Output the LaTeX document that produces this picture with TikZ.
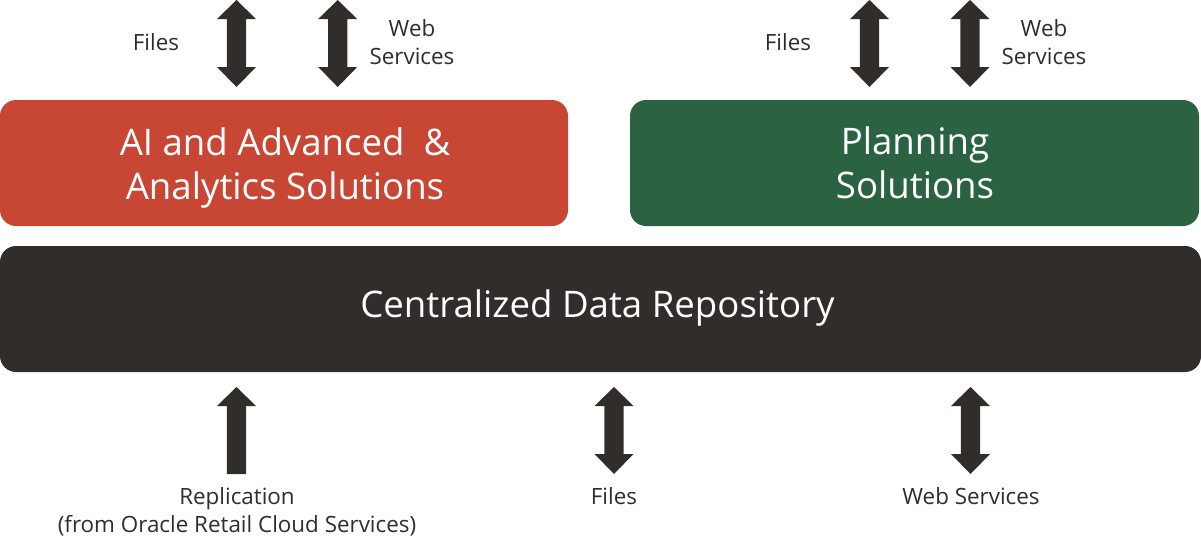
\documentclass[tikz,border=0pt]{standalone}
\usepackage{fontspec}
\setmainfont{Open Sans}
\definecolor{cred}{HTML}{C74634}
\definecolor{cgreen}{HTML}{2B6242}
\definecolor{cdark}{HTML}{312D2A}
\tikzset{
 x=1pt,y=-1pt,
 block/.style={text=white,font=\fontsize{36.6}{44}\selectfont,align=center,inner sep=0pt},
 lab/.style={text=cdark,font=\fontsize{22.4}{28}\selectfont,align=center,inner sep=0pt},
 panel/.style={fill=#1,rounded corners=16pt},
}
\newcommand{\dblarrow}[2]{% x, top y
 \fill[cdark] (#1,#2) -- (#1+19.5,#2+19) -- (#1+9.7,#2+19) -- (#1+9.7,#2+67) -- (#1+19.5,#2+67) -- (#1,#2+87) -- (#1-19.5,#2+67) -- (#1-9.7,#2+67) -- (#1-9.7,#2+19) -- (#1-19.5,#2+19) -- cycle;}
\begin{document}
\begin{tikzpicture}
\useasboundingbox (0,0) rectangle (1201,552);
\fill[panel=cred] (0,100) rectangle (568,226);
\fill[panel=cgreen] (630,100) rectangle (1199,226);
\fill[panel=cdark] (0,246) rectangle (1201,372);
\node[block] (ai) at (285,167.5) {AI and Advanced~~\&\hspace{4pt}\\Analytics Solutions};
\node[block] (pl) at (915,163) {Planning\\Solutions};
\node[block] (cdr) at (597.5,307.5) {Centralized Data Repository};
\dblarrow{236.5}{0}
\dblarrow{337.7}{0}
\dblarrow{869.5}{0}
\dblarrow{970}{0}
\dblarrow{614}{387}
\dblarrow{970.5}{387}
\fill[cdark] (236.5,387) -- (256,406) -- (246.2,406) -- (246.2,474) -- (226.8,474) -- (226.8,406) -- (217,406) -- cycle;
\node[lab] (f1) at (156,42) {Files};
\node[lab] (w1) at (412,42) {Web\hspace{5pt}\\Services};
\node[lab] (f2) at (788,42) {Files};
\node[lab] (w2) at (1044,42) {Web\hspace{5pt}\\Services};
\node[lab] (r) at (237,512) {Replication\\(from Oracle Retail Cloud Services)};
\node[lab] (f3) at (614,496) {Files};
\node[lab] (w3) at (971,496) {Web Services};
\end{tikzpicture}
\end{document}
